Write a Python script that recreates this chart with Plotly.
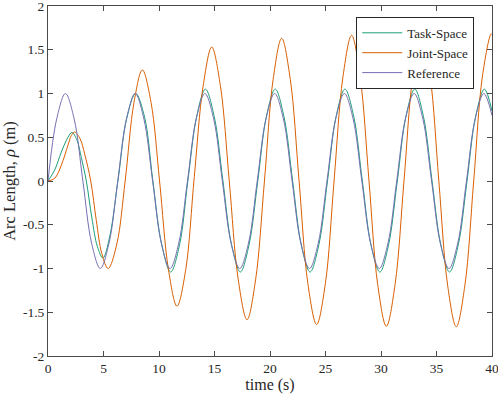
import plotly.graph_objects as go

# ---- data ----
ref_t = [0, 0.785, 1.571, 2.356, 3.142, 3.927, 4.712, 5.498, 6.283, 7.069, 7.854, 8.639,
         9.425, 10.21, 10.996, 11.781, 12.566, 13.352, 14.137, 14.923, 15.708, 16.493,
         17.279, 18.064, 18.85, 19.635, 20.42, 21.206, 21.991, 22.777, 23.562, 24.347,
         25.133, 25.918, 26.704, 27.489, 28.274, 29.06, 29.845, 30.631, 31.416, 32.201,
         32.987, 33.772, 34.558, 35.343, 36.128, 36.914, 37.699, 38.485, 39.27, 40.0]
ref_y = [0, 0.71, 1.0, 0.71, 0, -0.71, -1.0, -0.71, 0, 0.71, 1.0, 0.71,
         0, -0.71, -1.0, -0.71, 0, 0.71, 1.0, 0.71, 0, -0.71,
         -1.0, -0.71, 0, 0.71, 1.0, 0.71, 0, -0.71, -1.0, -0.71,
         0, 0.71, 1.0, 0.71, 0, -0.71, -1.0, -0.71, 0, 0.71,
         1.0, 0.71, 0, -0.71, -1.0, -0.71, 0, 0.71, 1.0, 0.75]

task_t = [0, 0.6, 1.2, 1.8, 2.15, 2.6, 3.0, 3.45, 3.95, 4.45, 4.95, 5.55, 6.3, 7.1, 7.9, 8.7,
          9.45, 10.25, 11.05, 11.85, 12.6, 13.4, 14.18, 14.97, 15.76, 16.54, 17.33,
          18.11, 18.9, 19.68, 20.47, 21.25, 22.04, 22.82, 23.61, 24.4, 25.18, 25.96,
          26.75, 27.54, 28.32, 29.1, 29.9, 30.68, 31.47, 32.25, 33.04, 33.82, 34.6,
          35.39, 36.18, 36.96, 37.75, 38.53, 39.32, 40.0]
task_y = [0, 0.125, 0.33, 0.5, 0.555, 0.47, 0.27, 0.0, -0.42, -0.75, -0.88, -0.64, 0.0, 0.72, 1.0, 0.73,
          0.0, -0.73, -1.04, -0.73, 0.0, 0.74, 1.05, 0.74, 0.0, -0.73, -1.04,
          -0.73, 0.0, 0.74, 1.05, 0.74, 0.0, -0.73, -1.04, -0.73, 0.0, 0.74,
          1.05, 0.74, 0.0, -0.73, -1.04, -0.73, 0.0, 0.74, 1.05, 0.74, 0.0,
          -0.73, -1.04, -0.73, 0.0, 0.74, 1.05, 0.8]

joint_t = [0, 0.6, 1.2, 1.8, 2.1, 2.4, 2.9, 3.3, 3.85, 4.35, 4.85, 5.42, 6.2, 6.95, 7.75, 8.5,
           9.28, 10.05, 10.85, 11.62, 12.4, 13.18, 13.97, 14.75, 15.53, 16.33, 17.13,
           17.93, 18.7, 19.5, 20.28, 21.05, 21.83, 22.62, 23.41, 24.2, 24.99, 25.77,
           26.56, 27.35, 28.13, 28.92, 29.7, 30.48, 31.27, 32.07, 32.86, 33.65, 34.43,
           35.21, 36.0, 36.78, 37.56, 38.35, 39.13, 39.92, 40.0]
joint_y = [0, 0.03, 0.18, 0.41, 0.52, 0.56, 0.48, 0.31, 0.0, -0.45, -0.83, -1.0, -0.72, 0.0, 0.9, 1.27,
           0.9, 0.0, -1.01, -1.43, -1.02, 0.05, 1.08, 1.53, 1.09, 0.0, -1.12,
           -1.585, -1.13, 0.0, 1.16, 1.63, 1.16, 0.0, -1.17, -1.64, -1.17, 0.0,
           1.18, 1.665, 1.18, 0.0, -1.18, -1.66, -1.18, 0.0, 1.19, 1.67, 1.19,
           0.0, -1.19, -1.665, -1.19, 0.0, 1.19, 1.68, 1.675]

x_ticks = [0, 5, 10, 15, 20, 25, 30, 35, 40]
y_ticks = [-2, -1.5, -1, -0.5, 0, 0.5, 1, 1.5, 2]
y_tick_text = ["-2", "-1.5", "-1", "-0.5", "0", "0.5", "1", "1.5", "2"]

series_names = ["Task-Space", "Joint-Space", "Reference"]
series_colors = ["#1b9e77", "#d95f02", "#7570b3"]

FONT = "Liberation Serif"
AX = "#4a4a4a"

fig = go.Figure()
for name, t, y, c in [(series_names[0], task_t, task_y, series_colors[0]),
                      (series_names[1], joint_t, joint_y, series_colors[1]),
                      (series_names[2], ref_t, ref_y, series_colors[2])]:
    fig.add_trace(go.Scatter(x=t, y=y, mode="lines", name=name,
                             line=dict(color=c, width=1, shape="spline", smoothing=1.0)))

axis_common = dict(showline=True, linecolor=AX, linewidth=1, mirror="ticks",
                   ticks="inside", ticklen=5, tickcolor=AX, tickwidth=1,
                   showgrid=False, zeroline=False, automargin=False,
                   ticklabeloverflow="allow",
                   tickfont=dict(family=FONT, size=13.5, color="#262626"))

fig.update_layout(
    width=498, height=396,
    margin=dict(l=48, r=6, t=6, b=40, autoexpand=False),
    plot_bgcolor="white", paper_bgcolor="white",
    font=dict(family=FONT, size=13, color="#262626"),
    xaxis=dict(range=[0, 40], tickvals=x_ticks,
               title=dict(text="time (s)", font=dict(family=FONT, size=16), standoff=3),
               **axis_common),
    yaxis=dict(range=[-2, 2], tickvals=y_ticks, ticktext=y_tick_text,
               title=dict(text="Arc Length, <i>ρ</i> (m)", font=dict(family=FONT, size=16.5), standoff=6),
               **axis_common),
    legend=dict(x=0.96, y=0.969, xanchor="right", yanchor="top",
                bgcolor="white", bordercolor="#262626", borderwidth=1,
                font=dict(family=FONT, size=13), itemwidth=40,
                tracegroupgap=0),
    showlegend=True,
)

fig.write_html("out.html", config={"displayModeBar": False},
               post_script="document.body.style.margin='0';")
